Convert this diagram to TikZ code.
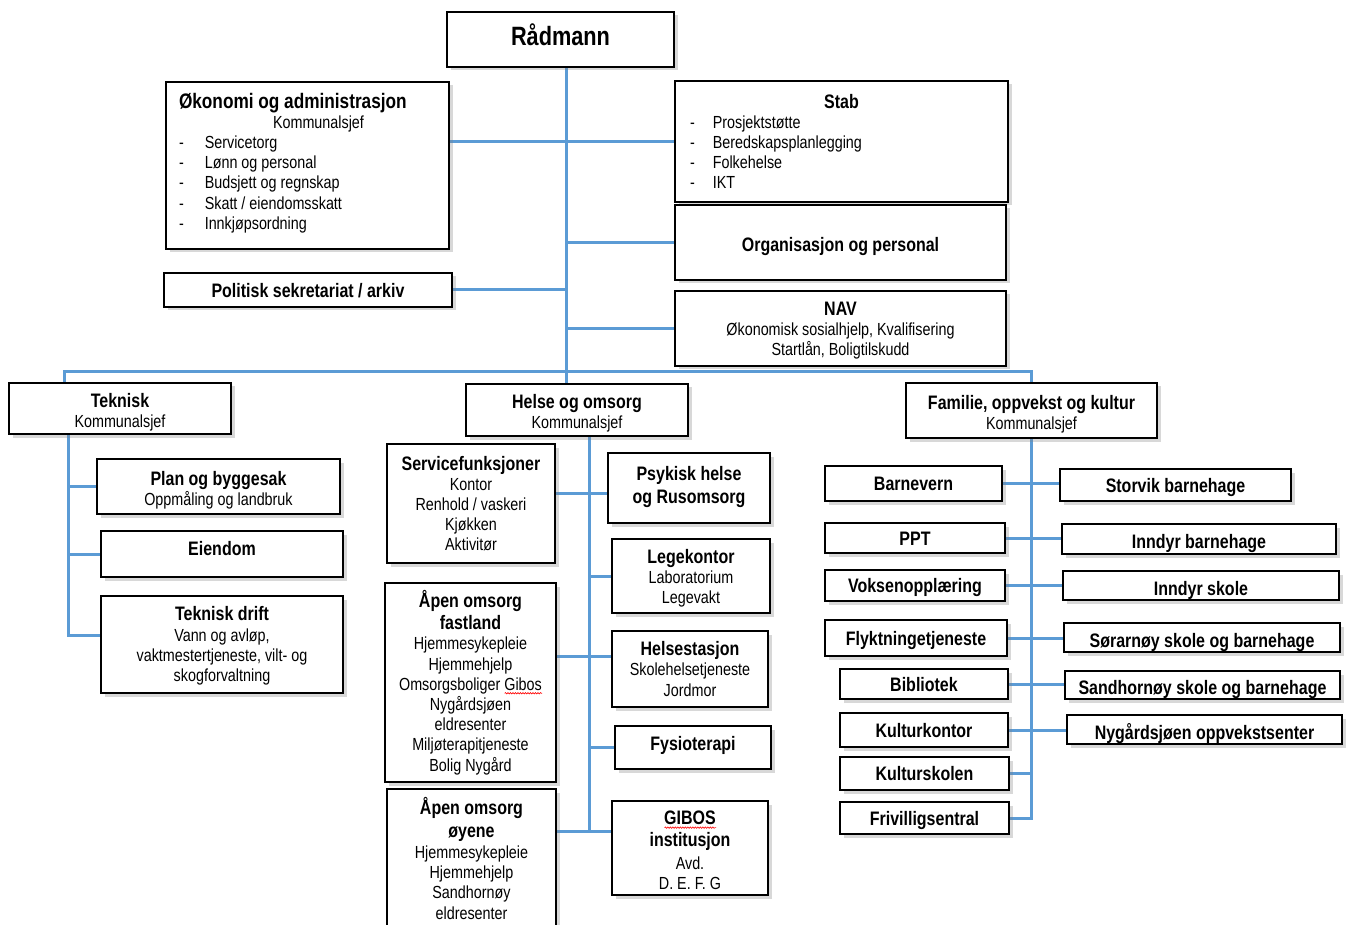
\documentclass[tikz,border=0pt]{standalone}
\usepackage{fontspec}
\setmainfont[FakeStretch=0.82]{Liberation Sans}
\usepackage{tikz}
\usetikzlibrary{backgrounds,shadows,decorations.pathmorphing}

\definecolor{linkblue}{RGB}{91,155,213}
\newcommand\regtxt{\fontsize{17.5}{20.2}\selectfont}
\newcommand\ttl{\bfseries\fontsize{19.5}{22}\selectfont}
\newcommand\dashitem[1][18pt]{-\hspace{#1}}
\newcommand\topstrut[1]{\rule{0pt}{#1}}
\newcommand\botstrut[1]{\rule[-#1]{0pt}{#1}}
\newsavebox\spellbox
\newcommand\spellmark[1]{\sbox\spellbox{#1}\rlap{\tikz[baseline=0pt]\draw[red, line width=0.6pt, decorate,
    decoration={snake, amplitude=0.7pt, segment length=2.5pt}] (0pt,-3pt) -- (\wd\spellbox,-3pt);}\usebox\spellbox}

\tikzset{
  unit/.style={draw, line width=1.3pt, fill=white, inner sep=0pt, align=center, font=\regtxt,
    drop shadow={shadow xshift=3.5pt, shadow yshift=-3.5pt, opacity=0.3}},
  unitb/.style={unit, font=\ttl, text height=18.5pt, text depth=4pt},
  unitr/.style={unitb, text height=23pt},
  sz/.style 2 args={minimum width=#1pt, minimum height=#2pt},
  link/.style={draw=linkblue, line width=3pt},
}

\begin{document}
\begin{tikzpicture}[x=1pt, y=-1pt]
\useasboundingbox (0,0) rectangle (1350,925);

\node[unit, sz={227}{55}, text height=19pt, text depth=7pt] (radmann) at (560.5,39.5) {{\bfseries\fontsize{26.5}{30}\selectfont Rådmann}};

\node[unit, sz={283}{167}, align=flush left, text width=257pt, inner xsep=13pt] (okonomi) at (307.5,165.5)
  {{\fontsize{21}{24}\selectfont\bfseries Økonomi og administrasjon}\\
   \hspace*{94pt}Kommunalsjef\\
   \dashitem[21pt]Servicetorg\\
   \dashitem[21pt]Lønn og personal\\
   \dashitem[21pt]Budsjett og regnskap\\
   \dashitem[21pt]Skatt / eiendomsskatt\\
   \dashitem[21pt]Innkjøpsordning\botstrut{9pt}};
\node[unit, sz={333}{121}, align=flush left, text width=303pt, inner xsep=15pt] (stab) at (841.5,141.5)
  {\makebox[303pt]{\ttl Stab}\\
   \dashitem Prosjektstøtte\\
   \dashitem Beredskapsplanlegging\\
   \dashitem Folkehelse\\
   \dashitem IKT};
\node[unitr, sz={331}{75}] (orgpers) at (840.5,242.5) {Organisasjon og personal};
\node[unitb, sz={288}{34}] (politisk) at (308,290) {Politisk sekretariat / arkiv};
\node[unit, sz={331}{75}] (nav) at (840.5,328.5) {\topstrut{18pt}{\ttl NAV}\\Økonomisk sosialhjelp, Kvalifisering\\Startlån, Boligtilskudd};

\node[unit, sz={222}{51}] (teknisk) at (120,408.5) {\topstrut{22pt}{\ttl Teknisk}\\Kommunalsjef};
\node[unit, sz={222}{52}] (helse) at (577,410) {\topstrut{21pt}{\ttl Helse og omsorg}\\Kommunalsjef};
\node[unit, sz={251}{55}] (familie) at (1031.5,410.5) {\topstrut{21pt}{\ttl Familie, oppvekst og kultur}\\Kommunalsjef};

\node[unit, sz={243}{55}] (plan) at (218.5,486.5) {\topstrut{21pt}{\ttl Plan og byggesak}\\Oppmåling og landbruk};
\node[unitb, sz={242}{46}, text depth=16pt] (eiendom) at (222,554) {Eiendom};
\node[unit, sz={242}{97}] (tdrift) at (222,644.5) {\topstrut{17pt}{\ttl Teknisk drift}\\Vann og avløp,\\vaktmestertjeneste, vilt- og\\skogforvaltning};

\node[unit, sz={168}{119}] (servf) at (471,503.5) {{\ttl Servicefunksjoner}\\Kontor\\Renhold / vaskeri\\Kjøkken\\Aktivitør};
\node[unit, sz={171}{199}] (apenf) at (470.5,682.5)
  {{\ttl Åpen omsorg}\\[2pt]{\ttl fastland}\\Hjemmesykepleie\\Hjemmehjelp\\Omsorgsboliger \spellmark{Gibos}\\Nygårdsjøen\\eldresenter\\Miljøterapitjeneste\\Bolig Nygård};
\node[unit, sz={169}{138}] (apeno) at (471.5,858)
  {{\ttl Åpen omsorg}\\[3pt]{\ttl øyene}\\[1pt]Hjemmesykepleie\\Hjemmehjelp\\Sandhornøy\\eldresenter};
\node[unit, sz={162}{70}] (psyk) at (689,488) {{\ttl Psykisk helse}\\[2pt]{\ttl og Rusomsorg}\botstrut{6pt}};
\node[unit, sz={158}{74}] (lege) at (691,576) {\topstrut{19pt}{\ttl Legekontor}\\Laboratorium\\Legevakt};
\node[unit, sz={156}{76}] (helsest) at (690,669) {{\ttl Helsestasjon}\\Skolehelsetjeneste\\Jordmor};
\node[unitb, sz={156}{43}, text depth=12pt] (fysio) at (693,747.5) {Fysioterapi};
\node[unit, sz={156}{94}] (gibos) at (690,848) {\topstrut{18pt}{\ttl \spellmark{GIBOS}}\\[2pt]{\ttl institusjon}\\[2pt]Avd.\\D. E. F. G};

\node[unitb, sz={177}{35}] (barnevern) at (913.5,483.5) {Barnevern};
\node[unitb, sz={180}{30}] (ppt) at (915,538) {PPT};
\node[unitb, sz={180}{31}] (voksen) at (915,585.5) {Voksenopplæring};
\node[unitb, sz={182}{36}] (flykt) at (916,638) {Flyktningetjeneste};
\node[unitb, sz={168}{30}] (bibl) at (924,684) {Bibliotek};
\node[unitb, sz={168}{34}] (kulturk) at (924,730) {Kulturkontor};
\node[unitb, sz={169}{33}] (kultursk) at (924.5,773.5) {Kulturskolen};
\node[unitb, sz={169}{32}] (frivillig) at (924.5,818) {Frivilligsentral};

\node[unitb, sz={231}{32}] (storvik) at (1175.5,485) {Storvik barnehage};
\node[unitr, sz={274}{30}] (inndyrbh) at (1199,539) {Inndyr barnehage};
\node[unitr, sz={276}{29}] (inndyrsk) at (1201,585.5) {Inndyr skole};
\node[unitr, sz={276}{29}] (sorarnoy) at (1202,637.5) {Sørarnøy skole og barnehage};
\node[unitr, sz={275}{28}] (sandh) at (1202.5,685) {Sandhornøy skole og barnehage};
\node[unitr, sz={275}{29}] (nygard) at (1204.5,729.5) {Nygårdsjøen oppvekstsenter};

\begin{scope}[on background layer]
\fill[white] (0,0) rectangle (1350,925);
\coordinate (spine) at (566,372);
\coordinate (busl) at (64,372);
\coordinate (tk) at (68,635);
\coordinate (hv) at (589,831);
\coordinate (sv) at (589,493);
\coordinate (af) at (589,656);

\draw[link] (radmann.south -| spine) -- (spine |- helse.north);
\draw[link] (okonomi.east |- stab.west) -- (stab.west);
\draw[link] (spine |- orgpers.west) -- (orgpers.west);
\draw[link] (politisk.east) -- (politisk.east -| spine);
\draw[link] (spine |- nav.west) -- (nav.west);
\draw[link] (teknisk.north -| busl) -- (busl) -- (busl -| familie.north) -- (familie.north);

\draw[link] (teknisk.south -| tk) -- (tk) -- (tk -| tdrift.west);
\draw[link] (tk |- plan.west) -- (plan.west);
\draw[link] (tk |- eiendom.west) -- (eiendom.west);

\draw[link] (helse.south -| hv) -- (hv) -- (hv -| gibos.west);
\draw[link] (apeno.east |- hv) -- (hv);
\draw[link] (sv -| servf.east) -- (sv -| psyk.west);
\draw[link] (af -| apenf.east) -- (af -| helsest.west);
\draw[link] (hv |- lege.west) -- (lege.west);
\draw[link] (hv |- fysio.west) -- (fysio.west);

\draw[link] (familie.south) -- (familie.south |- frivillig.east) -- (frivillig.east);
\draw[link] (barnevern.east) -- (barnevern.east -| storvik.west);
\draw[link] (ppt.east) -- (ppt.east -| inndyrbh.west);
\draw[link] (voksen.east) -- (voksen.east -| inndyrsk.west);
\draw[link] (flykt.east) -- (flykt.east -| sorarnoy.west);
\draw[link] (bibl.east) -- (bibl.east -| sandh.west);
\draw[link] (kulturk.east) -- (kulturk.east -| nygard.west);
\draw[link] (kultursk.east) -- (kultursk.east -| familie.south);
\end{scope}
\end{tikzpicture}
\end{document}
